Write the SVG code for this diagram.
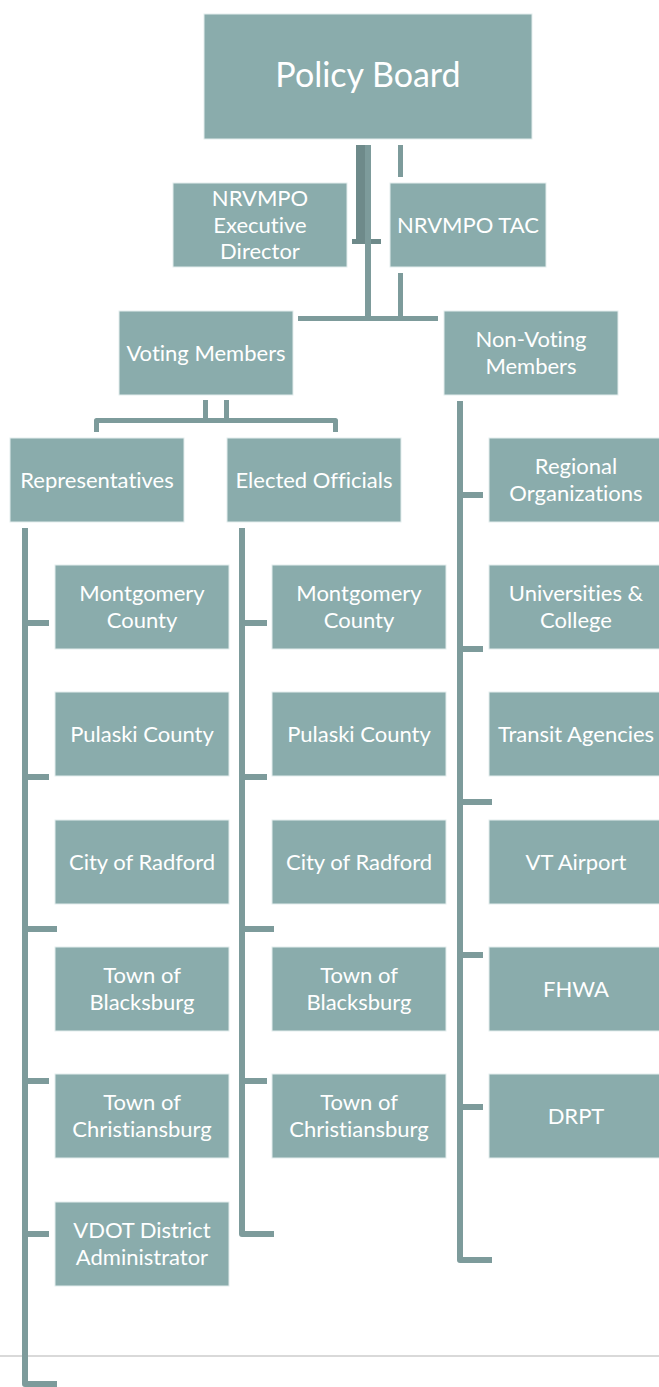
<svg xmlns="http://www.w3.org/2000/svg" width="659" height="1387" viewBox="0 0 659 1387">
<style>
.b{fill:#8aacac;stroke:#e3eded;stroke-width:1}
.t{fill:#ffffff;font-family:Lato,"Open Sans",sans-serif;font-size:22px;text-anchor:middle;font-variant-ligatures:none}
.c{fill:none;stroke:#7d9b9b;stroke-width:6;stroke-linejoin:round}
.c5{fill:none;stroke:#7d9b9b;stroke-width:5;stroke-linejoin:round}
</style>
<rect width="659" height="1387" fill="#ffffff"/>
<line x1="0" y1="1356" x2="659" y2="1356" stroke="#d9d9d9" stroke-width="2"/>
<g id="connectors">
<rect x="356" y="145" width="9" height="96" fill="#6e8a8a"/>
<rect x="352" y="239" width="29" height="5" fill="#6e8a8a"/>
<rect x="365" y="145" width="6" height="176" fill="#7d9b9b"/>
<rect x="398" y="145" width="5" height="32" fill="#7d9b9b"/>
<rect x="398" y="273" width="5" height="45" fill="#7d9b9b"/>
<rect x="298" y="316" width="140" height="5" fill="#7d9b9b"/>
<path class="c5" d="M205.5 400V420.5M226.5 400V420.5M96.5 432V420.5H335.5V432"/>
<path class="c" d="M25 528V1384H57M25 623H49M25 777H49M25 929H57M25 1081H49M25 1234H49"/>
<path class="c" d="M242 528V1234H274M242 623H267M242 777H267M242 929H274M242 1081H267"/>
<path class="c" d="M460 401V1260H492M460 495H483M460 649H483M460 802H492M460 955H483M460 1107H483"/>
</g>
<g id="policy-board"><rect class="b" x="204" y="14" width="328" height="125"/><text class="t" x="368" y="87" style="font-size:34px">Policy Board</text></g>
<g id="exec-director"><rect class="b" x="173" y="183" width="174" height="84"/><text class="t" x="260" y="206">NRVMPO</text><text class="t" x="260" y="233">Executive</text><text class="t" x="260" y="259">Director</text></g>
<g id="tac"><rect class="b" x="390" y="183" width="156" height="84"/><text class="t" x="468" y="233">NRVMPO TAC</text></g>
<g id="voting"><rect class="b" x="119" y="311" width="174" height="84"/><text class="t" x="206" y="361">Voting Members</text></g>
<g id="non-voting"><rect class="b" x="444" y="311" width="174" height="84"/><text class="t" x="531" y="347">Non-Voting</text><text class="t" x="531" y="374">Members</text></g>
<g id="representatives"><rect class="b" x="10" y="438" width="174" height="84"/><text class="t" x="97" y="488">Representatives</text></g>
<g id="elected"><rect class="b" x="227" y="438" width="174" height="84"/><text class="t" x="314" y="488">Elected Officials</text></g>
<g id="rep-montgomery"><rect class="b" x="55" y="565" width="174" height="84"/><text class="t" x="142" y="601">Montgomery</text><text class="t" x="142" y="628">County</text></g>
<g id="rep-pulaski"><rect class="b" x="55" y="692" width="174" height="84"/><text class="t" x="142" y="742">Pulaski County</text></g>
<g id="rep-radford"><rect class="b" x="55" y="820" width="174" height="84"/><text class="t" x="142" y="870">City of Radford</text></g>
<g id="rep-blacksburg"><rect class="b" x="55" y="947" width="174" height="84"/><text class="t" x="142" y="983">Town of</text><text class="t" x="142" y="1010">Blacksburg</text></g>
<g id="rep-christiansburg"><rect class="b" x="55" y="1074" width="174" height="84"/><text class="t" x="142" y="1110">Town of</text><text class="t" x="142" y="1137">Christiansburg</text></g>
<g id="rep-vdot"><rect class="b" x="55" y="1202" width="174" height="84"/><text class="t" x="142" y="1238">VDOT District</text><text class="t" x="142" y="1265">Administrator</text></g>
<g id="el-montgomery"><rect class="b" x="272" y="565" width="174" height="84"/><text class="t" x="359" y="601">Montgomery</text><text class="t" x="359" y="628">County</text></g>
<g id="el-pulaski"><rect class="b" x="272" y="692" width="174" height="84"/><text class="t" x="359" y="742">Pulaski County</text></g>
<g id="el-radford"><rect class="b" x="272" y="820" width="174" height="84"/><text class="t" x="359" y="870">City of Radford</text></g>
<g id="el-blacksburg"><rect class="b" x="272" y="947" width="174" height="84"/><text class="t" x="359" y="983">Town of</text><text class="t" x="359" y="1010">Blacksburg</text></g>
<g id="el-christiansburg"><rect class="b" x="272" y="1074" width="174" height="84"/><text class="t" x="359" y="1110">Town of</text><text class="t" x="359" y="1137">Christiansburg</text></g>
<g id="nv-regional"><rect class="b" x="489" y="438" width="174" height="84"/><text class="t" x="576" y="474">Regional</text><text class="t" x="576" y="501">Organizations</text></g>
<g id="nv-universities"><rect class="b" x="489" y="565" width="174" height="84"/><text class="t" x="576" y="601">Universities &amp;</text><text class="t" x="576" y="628">College</text></g>
<g id="nv-transit"><rect class="b" x="489" y="692" width="174" height="84"/><text class="t" x="576" y="742">Transit Agencies</text></g>
<g id="nv-airport"><rect class="b" x="489" y="820" width="174" height="84"/><text class="t" x="576" y="870">VT Airport</text></g>
<g id="nv-fhwa"><rect class="b" x="489" y="947" width="174" height="84"/><text class="t" x="576" y="997">FHWA</text></g>
<g id="nv-drpt"><rect class="b" x="489" y="1074" width="174" height="84"/><text class="t" x="576" y="1124">DRPT</text></g>
</svg>
